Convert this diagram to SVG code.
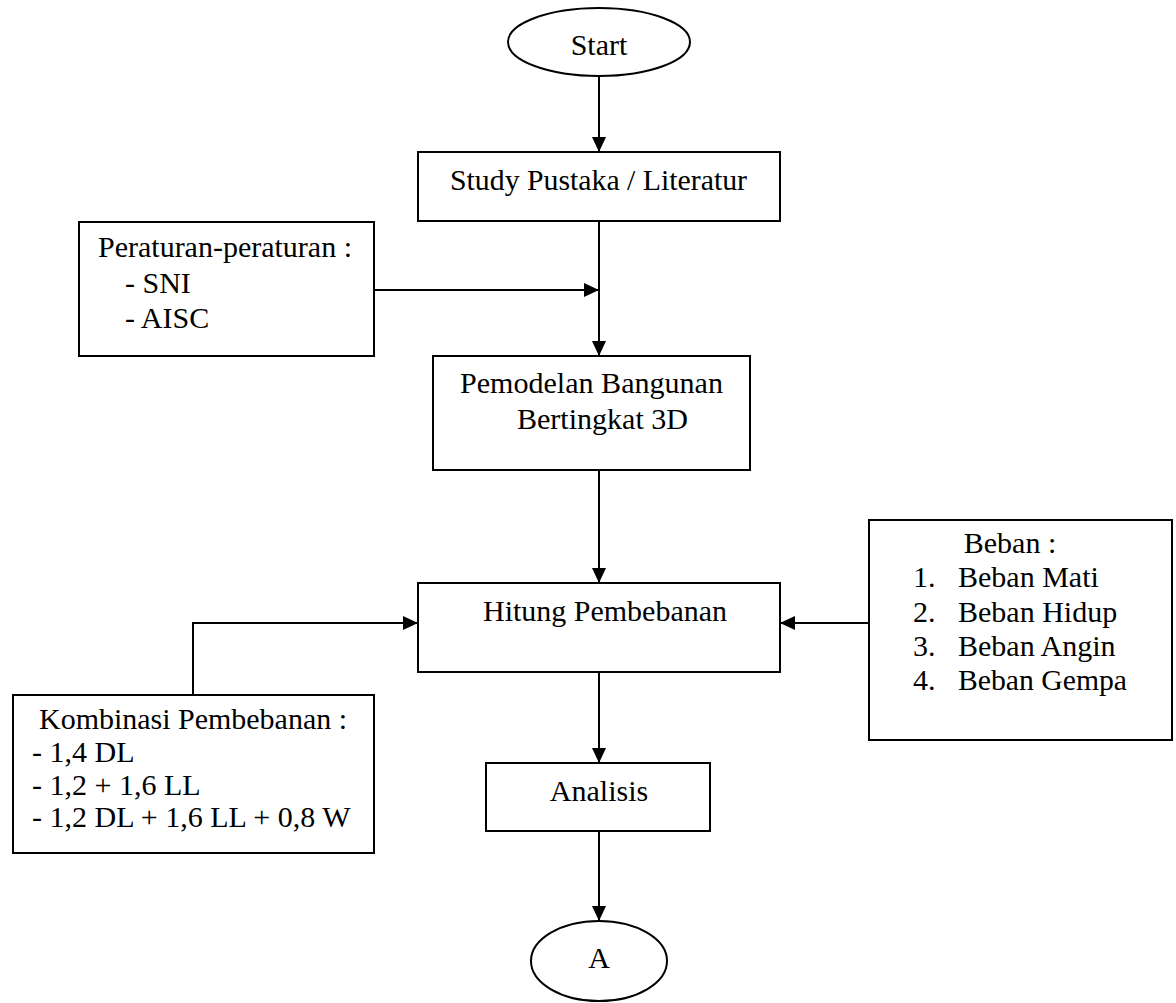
<svg xmlns="http://www.w3.org/2000/svg" width="1176" height="1003" viewBox="0 0 1176 1003">
<style>
.box{fill:#fff;stroke:#000;stroke-width:2}
.ln{fill:none;stroke:#000;stroke-width:2}
text{font-family:"Liberation Serif","Times New Roman",serif;font-size:30px;fill:#000}
.c{text-anchor:middle}
</style>
<defs>
<marker id="ah" markerUnits="userSpaceOnUse" markerWidth="15" markerHeight="14" refX="15" refY="7" orient="auto">
<path d="M0,0 L15,7 L0,14 z" fill="#000"/>
</marker>
</defs>
<rect width="1176" height="1003" fill="#fff"/>
<g id="connectors">
<line class="ln" x1="599" y1="76" x2="599" y2="152" marker-end="url(#ah)"/>
<line class="ln" x1="599" y1="221" x2="599" y2="356" marker-end="url(#ah)"/>
<line class="ln" x1="374" y1="290" x2="599" y2="290" marker-end="url(#ah)"/>
<line class="ln" x1="599" y1="470" x2="599" y2="583" marker-end="url(#ah)"/>
<polyline class="ln" points="193,695 193,623 418,623" marker-end="url(#ah)"/>
<line class="ln" x1="869" y1="623" x2="780" y2="623" marker-end="url(#ah)"/>
<line class="ln" x1="599" y1="672" x2="599" y2="763" marker-end="url(#ah)"/>
<line class="ln" x1="599" y1="831" x2="599" y2="921" marker-end="url(#ah)"/>
</g>
<g id="start">
<ellipse class="box" cx="599" cy="42" rx="91" ry="34"/>
<text class="c" x="599" y="55">Start</text>
</g>
<g id="study">
<rect class="box" x="418" y="152" width="362" height="69"/>
<text class="c" x="598.5" y="190" textLength="297" lengthAdjust="spacingAndGlyphs">Study Pustaka / Literatur</text>
</g>
<g id="peraturan">
<rect class="box" x="79" y="222" width="295" height="134"/>
<text x="98" y="257" textLength="254" lengthAdjust="spacingAndGlyphs">Peraturan-peraturan :</text>
<text x="125" y="293">- SNI</text>
<text x="125" y="328">- AISC</text>
</g>
<g id="pemodelan">
<rect class="box" x="433" y="356" width="317" height="114"/>
<text x="460" y="393" textLength="263" lengthAdjust="spacingAndGlyphs">Pemodelan Bangunan</text>
<text x="517" y="429" textLength="171" lengthAdjust="spacingAndGlyphs">Bertingkat 3D</text>
</g>
<g id="hitung">
<rect class="box" x="418" y="583" width="362" height="89"/>
<text x="483" y="621" textLength="244" lengthAdjust="spacingAndGlyphs">Hitung Pembebanan</text>
</g>
<g id="beban">
<rect class="box" x="869" y="520" width="303" height="220"/>
<text class="c" x="1010" y="553">Beban :</text>
<text x="913" y="587">1.</text><text x="958" y="587">Beban Mati</text>
<text x="913" y="622">2.</text><text x="958" y="622">Beban Hidup</text>
<text x="913" y="656">3.</text><text x="958" y="656">Beban Angin</text>
<text x="913" y="690">4.</text><text x="958" y="690" textLength="169" lengthAdjust="spacingAndGlyphs">Beban Gempa</text>
</g>
<g id="kombinasi">
<rect class="box" x="13" y="695" width="361" height="158"/>
<text x="39" y="729" textLength="308" lengthAdjust="spacingAndGlyphs">Kombinasi Pembebanan :</text>
<text x="32" y="762">- 1,4 DL</text>
<text x="32" y="795">- 1,2 + 1,6 LL</text>
<text x="32" y="827">- 1,2 DL + 1,6 LL + 0,8 W</text>
</g>
<g id="analisis">
<rect class="box" x="486" y="763" width="224" height="68"/>
<text class="c" x="599" y="801">Analisis</text>
</g>
<g id="a">
<ellipse class="box" cx="599" cy="961" rx="68" ry="40"/>
<text class="c" x="599" y="968">A</text>
</g>
</svg>
